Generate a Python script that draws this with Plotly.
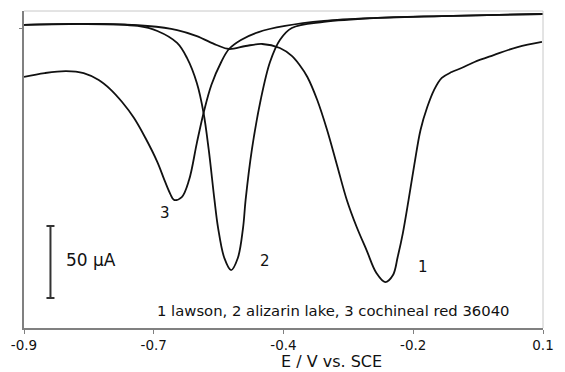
import plotly.graph_objects as go

# Differential pulse voltammograms: potential (V vs. SCE) and current (µA)
e_lawson = [-0.900, -0.756, -0.662, -0.605, -0.567, -0.529, -0.505, -0.473, -0.441, -0.407,
            -0.384, -0.369, -0.354, -0.335, -0.316, -0.297, -0.278, -0.259, -0.240, -0.221,
            -0.204, -0.189, -0.180, -0.170, -0.159, -0.148, -0.136, -0.123, -0.110, -0.095,
            -0.076, -0.057, -0.032, 0.005, 0.051, 0.098]
i_lawson = [2.1, 2.8, 1.4, -1.4, -5.6, -11.8, -14.6, -12.5, -11.1, -13.9,
            -19.4, -25.7, -34.0, -50.0, -70.8, -95.1, -119.4, -138.2, -154.2, -170.1,
            -176.4, -171.5, -159.0, -142.4, -119.4, -95.1, -70.8, -54.9, -43.1, -34.7,
            -30.6, -27.8, -23.6, -18.8, -13.2, -9.7]

e_alizarin = [-0.900, -0.794, -0.681, -0.643, -0.605, -0.586, -0.567, -0.554, -0.544, -0.533,
              -0.526, -0.514, -0.501, -0.488, -0.478, -0.473, -0.461, -0.444, -0.426, -0.407,
              -0.384, -0.322, -0.227, -0.095, 0.100]
i_alizarin = [2.1, 2.8, 1.4, -2.1, -10.4, -20.8, -38.2, -59.0, -84.7, -119.4,
              -138.9, -159.7, -168.1, -159.7, -138.9, -119.4, -84.7, -50.0, -23.6, -8.3,
              0.0, 4.2, 6.9, 8.3, 9.7]

e_cochineal = [-0.900, -0.860, -0.819, -0.785, -0.756, -0.734, -0.711, -0.688, -0.666, -0.643,
               -0.628, -0.618, -0.611, -0.596, -0.582, -0.567, -0.554, -0.539, -0.520, -0.505,
               -0.482, -0.448, -0.397, -0.322, -0.227, -0.095, 0.100]
i_cochineal = [-34.0, -31.3, -29.9, -31.3, -36.1, -42.4, -51.4, -62.5, -76.4, -93.1,
               -106.9, -115.3, -119.4, -117.4, -105.6, -79.9, -59.0, -39.6, -23.6, -14.6,
               -8.3, -2.8, 1.4, 4.9, 6.9, 8.3, 9.7]

curve_labels = ["1", "2", "3"]
label_e = [-0.131, -0.435, -0.628]
label_i = [-166.0, -162.0, -128.5]

scale_e = -0.849
scale_mid = -162.5
scale_half = 25.0  # half of the 50 µA bar

x_ticks = [-0.9, -0.65, -0.4, -0.15, 0.1]
x_tick_text = ["-0.9", "-0.7", "-0.4", "-0.2", "0.1"]

FONT = "DejaVu Sans, Liberation Sans, Arial, sans-serif"
INK = "#111111"

fig = go.Figure()
for e, i in [(e_lawson, i_lawson), (e_alizarin, i_alizarin), (e_cochineal, i_cochineal)]:
    fig.add_trace(go.Scatter(x=e, y=i, mode="lines",
                             line=dict(color=INK, width=1.8, shape="spline", smoothing=1.0),
                             hoverinfo="skip", showlegend=False))

# 50 µA scale bar
fig.add_trace(go.Scatter(x=[scale_e], y=[scale_mid], mode="markers",
                         marker=dict(size=0.1, color="#333333"),
                         error_y=dict(type="data", array=[scale_half], color="#333333",
                                      thickness=2, width=4),
                         hoverinfo="skip", showlegend=False))

for t, x, y in zip(curve_labels, label_e, label_i):
    fig.add_annotation(x=x, y=y, text=t, showarrow=False,
                       font=dict(family=FONT, size=15, color=INK))

fig.add_annotation(x=-0.822, y=-161.1, text="50 µA", showarrow=False, xanchor="left",
                   font=dict(family=FONT, size=17, color=INK))
fig.add_annotation(x=-0.303, y=-196.2, text="1 lawson, 2 alizarin lake, 3 cochineal red 36040",
                   showarrow=False, font=dict(family=FONT, size=14.8, color=INK))

# axis title
fig.add_annotation(x=0.592, y=-0.106, xref="paper", yref="paper", text="E / V vs. SCE",
                   showarrow=False, yanchor="middle",
                   font=dict(family=FONT, size=16, color=INK))

# light frame on top and right
fig.add_shape(type="line", xref="paper", yref="paper", x0=0, x1=1, y0=1, y1=1,
              line=dict(color="#c8c8c8", width=1))
fig.add_shape(type="line", xref="paper", yref="paper", x0=1, x1=1, y0=0, y1=1,
              line=dict(color="#c8c8c8", width=1))

fig.update_layout(
    width=565, height=372,
    margin=dict(l=24, r=12, t=11, b=44),
    paper_bgcolor="white", plot_bgcolor="white",
    font=dict(family=FONT, color=INK),
    xaxis=dict(range=[-0.9, 0.1], tickvals=x_ticks, ticktext=x_tick_text,
               showgrid=False, zeroline=False, showline=True, linecolor="#808080", linewidth=1.5,
               ticks="outside", ticklen=4, tickcolor="#808080",
               tickfont=dict(size=13.5, family=FONT, color=INK)),
    yaxis=dict(range=[-208.3, 11.8], tickvals=[0], showticklabels=False,
               showgrid=False, zeroline=False, showline=True, linecolor="#808080", linewidth=1.5,
               ticks="outside", ticklen=3, tickcolor="#808080"),
)

fig.write_html("out.html")
